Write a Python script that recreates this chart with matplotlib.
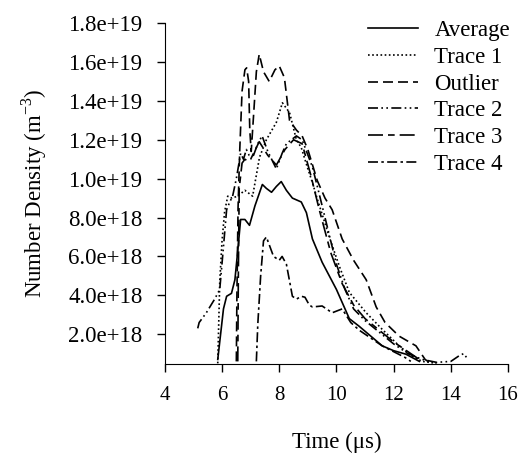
import matplotlib
matplotlib.use("Agg")
import matplotlib.pyplot as plt
from matplotlib.ticker import FuncFormatter

plt.rcParams['font.family'] = ['Liberation Serif', 'DejaVu Serif']

# values in units of 1e18 m^-3, time in microseconds
avg_t = [5.85, 5.95, 6.05, 6.16, 6.33, 6.45, 6.55, 6.65, 6.8, 6.96, 7.15, 7.41, 7.55, 7.73, 7.9, 8.07,
         8.25, 8.46, 8.77, 8.95, 9.16, 9.5, 10.0, 10.45, 10.8, 11.04, 11.6, 12.0, 12.43, 12.9]
avg_n = [0.7, 2.0, 3.3, 3.95, 4.1, 4.8, 6.3, 7.9, 7.9, 7.6, 8.6, 9.7, 9.5, 9.3, 9.6, 9.85,
         9.4, 9.0, 8.8, 8.25, 6.9, 5.7, 4.3, 2.8, 2.4, 2.1, 1.4, 1.15, 0.97, 0.6]

tr1_t = [5.85, 5.92, 6.0, 6.09, 6.2, 6.35, 6.54, 6.8, 7.07, 7.31, 7.55, 7.9, 8.11, 8.36, 8.6, 8.77,
         8.98, 9.16, 9.3, 9.75, 10.1, 10.45, 11.04, 11.6, 12.19, 12.64, 13.0, 13.5]
tr1_n = [0.5, 4.7, 6.8, 8.3, 9.1, 9.0, 9.1, 9.4, 9.1, 11.1, 12.0, 12.9, 13.9, 13.4, 12.0, 11.6,
         10.6, 9.8, 9.1, 7.0, 5.5, 4.15, 3.1, 2.25, 1.4, 0.87, 0.6, 0.5]

out_t = [6.5, 6.52, 6.56, 6.62, 6.7, 6.8, 6.86, 6.93, 6.97, 7.02, 7.1, 7.2, 7.3, 7.45, 7.65, 7.85,
         8.0, 8.18, 8.36, 8.6, 8.8, 9.0, 9.33, 9.6, 9.85, 10.2, 10.6, 11.04, 11.39, 11.7, 12.19,
         12.78, 13.1, 13.3]
out_n = [0.6, 4.0, 8.5, 11.5, 14.5, 15.6, 15.7, 15.0, 12.5, 11.4, 13.2, 15.5, 16.4, 15.5, 15.0, 15.6,
         15.8, 15.2, 13.0, 12.5, 12.2, 11.5, 9.9, 9.0, 8.4, 6.9, 5.8, 4.8, 3.4, 2.6, 1.9,
         1.4, 0.7, 0.5]

tr2_t = [5.15, 5.2, 5.45, 5.74, 5.92, 6.05, 6.16, 6.27, 6.37, 6.5, 6.65, 6.75, 6.85, 6.95, 7.1,
         7.25, 7.4, 7.6, 7.9, 8.1, 8.25, 8.6, 8.8, 9.16, 9.4, 9.7, 10.0, 10.3, 10.6, 11.0, 11.5,
         12.0, 12.5, 13.0, 13.5, 14.0, 14.3, 14.45, 14.6]
tr2_n = [2.3, 2.6, 3.1, 3.8, 4.3, 6.5, 8.4, 8.8, 9.1, 10.0, 11.3, 11.0, 11.5, 11.2, 11.2,
         11.8, 12.2, 11.4, 10.5, 11.3, 11.8, 12.2, 12.0, 10.6, 9.2, 7.4, 5.6, 4.3, 3.3, 2.7, 2.1,
         1.5, 1.0, 0.7, 0.55, 0.6, 0.9, 1.0, 0.7]

tr3_t = [6.55, 6.57, 6.6, 6.7, 6.8, 6.9, 7.0, 7.3, 7.6, 7.9, 8.2, 8.5, 8.8, 9.1, 9.4, 9.8,
         10.2, 10.6, 11.0, 11.5, 12.0, 12.5, 13.0]
tr3_n = [0.6, 5.0, 9.5, 10.8, 11.0, 10.9, 11.0, 11.9, 11.2, 10.7, 11.5, 12.0, 11.8, 10.2, 8.4, 6.2,
         4.6, 3.5, 2.8, 2.2, 1.6, 1.1, 0.6]

tr4_t = [7.2, 7.25, 7.35, 7.45, 7.55, 7.65, 7.8, 8.0, 8.1, 8.25, 8.46, 8.6, 8.77, 8.9, 9.05,
         9.16, 9.5, 9.85, 10.2, 10.5, 10.8, 11.2, 11.6, 12.0, 12.4, 12.6]
tr4_n = [0.6, 2.5, 5.0, 6.8, 7.0, 6.6, 6.0, 5.8, 6.0, 5.6, 3.95, 3.8, 3.95, 3.9, 3.5,
         3.4, 3.45, 3.1, 3.3, 2.6, 2.2, 1.8, 1.4, 1.1, 0.8, 0.6]

labels = ['Average', 'Trace 1', 'Outlier', 'Trace 2', 'Trace 3', 'Trace 4']
yticks = [2, 4, 6, 8, 10, 12, 14, 16, 18]
xticks = [4, 6, 8, 10, 12, 14, 16]

fig = plt.figure(figsize=(5.2, 4.54), dpi=100)
ax = fig.add_axes([0.317, 0.198, 0.660, 0.751])

series = [(avg_t, avg_n, '-'), (tr1_t, tr1_n, (0, (1, 1.5))), (out_t, out_n, (0, (6, 3))),
          (tr2_t, tr2_n, (0, (6, 2, 1, 2, 1, 2))), (tr3_t, tr3_n, (0, (9, 3, 4, 3))),
          (tr4_t, tr4_n, (0, (6, 2, 1.5, 2)))]
for (t, n, ls), lab in zip(series, labels):
    ax.plot(t, [v * 1e18 for v in n], color='black', lw=1.2, ls=ls, label=lab)

ax.set_xlim(4, 16)
ax.set_ylim(0.46e18, 1.8e19)
ax.set_xticks(xticks)
ax.set_yticks([v * 1e18 for v in yticks])
ax.yaxis.set_major_formatter(FuncFormatter(lambda v, p: '%.1e' % v))
ax.spines['top'].set_visible(False)
ax.spines['right'].set_visible(False)
ax.tick_params(direction='out', length=6, width=1, colors='black')
ax.tick_params(axis='x', labelsize=15, pad=10)
ax.tick_params(axis='y', labelsize=16.5, pad=10)
ax.set_xlabel('Time (μs)', fontsize=16.5, labelpad=19)
ax.set_ylabel('Number Density (m$^{\\mathregular{-3}}$)', fontsize=16.5, labelpad=14)

ax.legend(loc='upper left', bbox_to_anchor=(368 / 520, 1 - 20 / 454), bbox_transform=fig.transFigure,
          frameon=False, fontsize=16.5, handlelength=2.2, handletextpad=0.7, labelspacing=0.25,
          borderaxespad=0, borderpad=0)

fig.savefig('out.png', dpi=100)
